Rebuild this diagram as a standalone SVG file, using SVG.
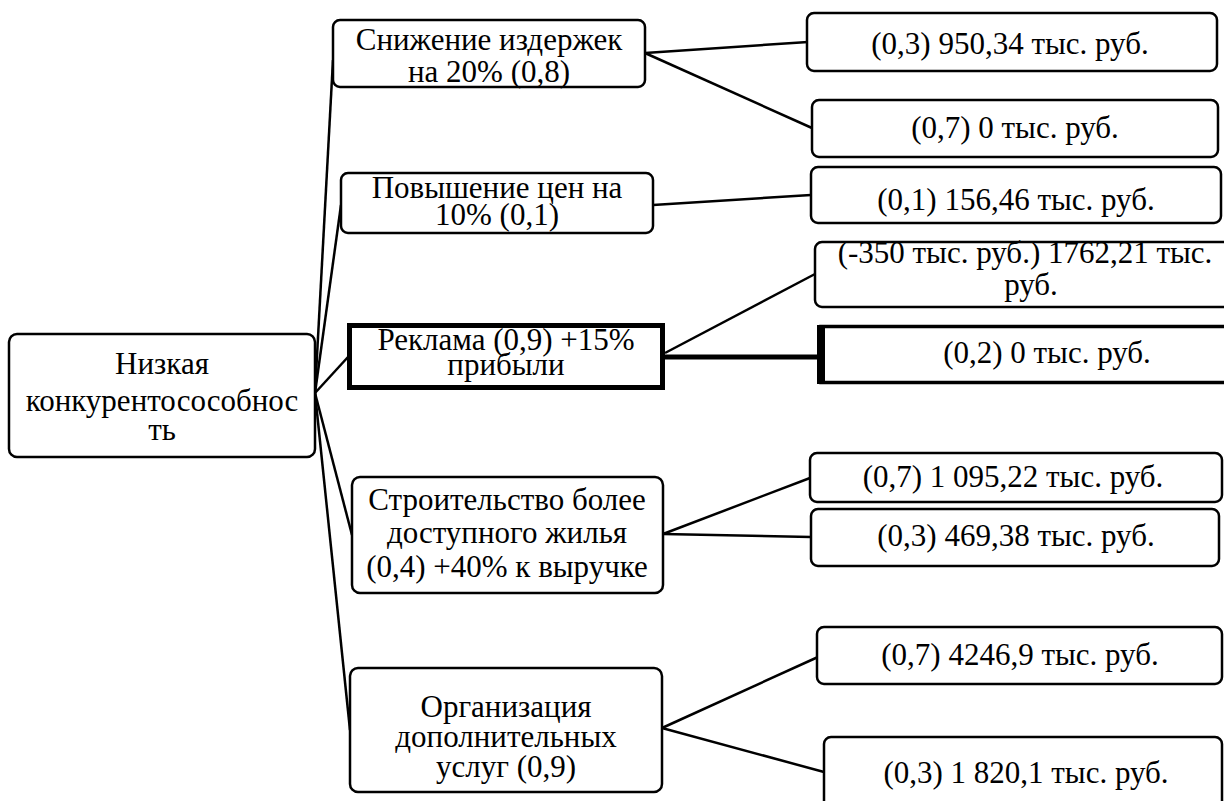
<svg xmlns="http://www.w3.org/2000/svg" width="1224" height="801" viewBox="0 0 1224 801">
<style>
  .box { fill: #fff; stroke: #000; stroke-width: 2.5; }
  .bold { fill: #fff; stroke: #000; stroke-width: 5; }
  .ln { stroke: #000; stroke-width: 2.5; fill: none; }
  .thick { stroke: #000; stroke-width: 5; fill: none; }
  .t { font-family: 'Liberation Serif', serif; font-size: 31px; fill: #000; text-anchor: middle; }
</style>
<rect width="1224" height="801" fill="#fff"/>
<g id="connectors">
  <line class="ln" x1="315" y1="393" x2="333" y2="60"/>
  <line class="ln" x1="315" y1="393" x2="341" y2="205"/>
  <line class="ln" x1="315" y1="393" x2="348" y2="357"/>
  <line class="ln" x1="315" y1="393" x2="352" y2="535"/>
  <line class="ln" x1="315" y1="393" x2="350" y2="730"/>
  <line class="ln" x1="645" y1="53" x2="808" y2="42"/>
  <line class="ln" x1="645" y1="53" x2="812" y2="128"/>
  <line class="ln" x1="653" y1="205" x2="811" y2="195"/>
  <line class="ln" x1="665" y1="353" x2="815" y2="274"/>
  <line class="thick" x1="665" y1="357" x2="822" y2="357"/>
  <line class="ln" x1="663" y1="534" x2="810" y2="478"/>
  <line class="ln" x1="663" y1="534" x2="811" y2="537"/>
  <line class="ln" x1="662" y1="728" x2="818" y2="657"/>
  <line class="ln" x1="662" y1="728" x2="824" y2="772"/>
</g>
<g id="root">
  <rect class="box" x="9" y="334" width="306" height="123" rx="8"/>
  <text class="t" font-family="Liberation Serif" x="162" y="374">Низкая</text>
  <text class="t" font-family="Liberation Serif" x="162" y="411">конкурентосособнос</text>
  <text class="t" font-family="Liberation Serif" x="162" y="440">ть</text>
</g>
<g id="n-snizhenie">
  <rect class="box" x="333" y="20" width="312" height="67" rx="7"/>
  <text class="t" font-family="Liberation Serif" x="489" y="50">Снижение издержек</text>
  <text class="t" font-family="Liberation Serif" x="489" y="82">на 20% (0,8)</text>
</g>
<g id="n-povyshenie">
  <rect class="box" x="341" y="173" width="312" height="60" rx="7"/>
  <text class="t" font-family="Liberation Serif" x="497" y="198">Повышение цен на</text>
  <text class="t" font-family="Liberation Serif" x="497" y="225">10% (0,1)</text>
</g>
<g id="n-reklama">
  <rect class="bold" x="349.5" y="325.5" width="313" height="62"/>
  <text class="t" font-family="Liberation Serif" x="506" y="350">Реклама (0,9) +15%</text>
  <text class="t" font-family="Liberation Serif" x="506" y="375">прибыли</text>
</g>
<g id="n-stroitelstvo">
  <rect class="box" x="352" y="477" width="311" height="116" rx="8"/>
  <text class="t" font-family="Liberation Serif" x="507" y="510">Строительство более</text>
  <text class="t" font-family="Liberation Serif" x="507" y="543">доступного жилья</text>
  <text class="t" font-family="Liberation Serif" x="507" y="577">(0,4) +40% к выручке</text>
</g>
<g id="n-organizatsiya">
  <rect class="box" x="350" y="668" width="312" height="124" rx="8"/>
  <text class="t" font-family="Liberation Serif" x="506" y="717">Организация</text>
  <text class="t" font-family="Liberation Serif" x="506" y="747">дополнительных</text>
  <text class="t" font-family="Liberation Serif" x="506" y="777">услуг (0,9)</text>
</g>
<g id="r1">
  <rect class="box" x="807" y="13" width="410" height="58" rx="7"/>
  <text class="t" font-family="Liberation Serif" x="1010" y="54">(0,3) 950,34 тыс. руб.</text>
</g>
<g id="r2">
  <rect class="box" x="812" y="100" width="406" height="57" rx="7"/>
  <text class="t" font-family="Liberation Serif" x="1015" y="138">(0,7) 0 тыс. руб.</text>
</g>
<g id="r3">
  <rect class="box" x="811" y="167" width="410" height="56" rx="7"/>
  <text class="t" font-family="Liberation Serif" x="1016" y="210">(0,1) 156,46 тыс. руб.</text>
</g>
<g id="r4">
  <rect class="box" x="815" y="242" width="430" height="65" rx="7"/>
  <text class="t" font-family="Liberation Serif" x="1025" y="263">(-350 тыс. руб.) 1762,21 тыс.</text>
  <text class="t" font-family="Liberation Serif" x="1031" y="295">руб.</text>
</g>
<g id="r5">
  <rect fill="#fff" stroke="#000" stroke-width="3.5" x="821" y="326.5" width="460" height="56"/>
  <line stroke="#000" stroke-width="8" x1="821" y1="325" x2="821" y2="384"/>
  <text class="t" font-family="Liberation Serif" x="1047" y="363">(0,2) 0 тыс. руб.</text>
</g>
<g id="r6">
  <rect class="box" x="810" y="453" width="412" height="49" rx="7"/>
  <text class="t" font-family="Liberation Serif" x="1013" y="487">(0,7) 1 095,22 тыс. руб.</text>
</g>
<g id="r7">
  <rect class="box" x="811" y="509" width="408" height="57" rx="7"/>
  <text class="t" font-family="Liberation Serif" x="1016" y="546">(0,3) 469,38 тыс. руб.</text>
</g>
<g id="r8">
  <rect class="box" x="817" y="627" width="405" height="57" rx="7"/>
  <text class="t" font-family="Liberation Serif" x="1020" y="665">(0,7) 4246,9 тыс. руб.</text>
</g>
<g id="r9">
  <rect class="box" x="824" y="737" width="398" height="90" rx="7"/>
  <text class="t" font-family="Liberation Serif" x="1026" y="783">(0,3) 1 820,1 тыс. руб.</text>
</g>
</svg>
